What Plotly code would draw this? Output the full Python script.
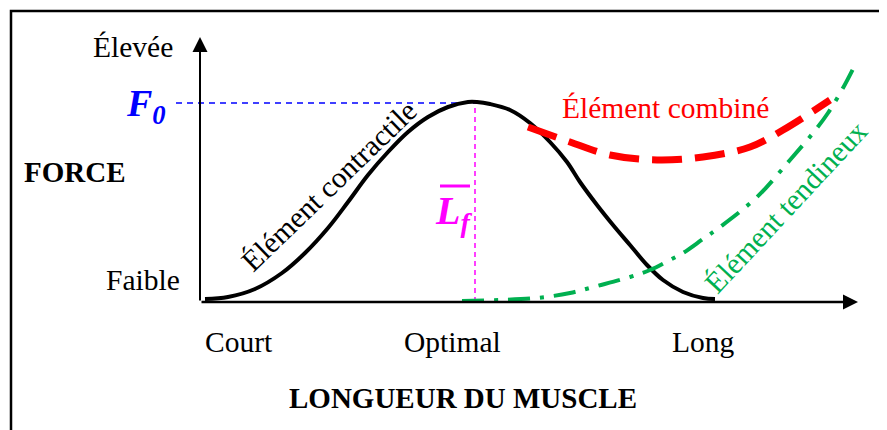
import plotly.graph_objects as go

# curves (x = longueur, y = force, arbitrary units)
contractile_x = [5, 28, 55, 82, 105, 128, 148, 168, 188, 208, 228, 248, 268, 277,
                 290, 310, 330, 350, 367, 380, 397, 413, 430, 447, 463, 483, 503, 515]
contractile_y = [3, 5, 13, 29, 49, 74, 100, 127, 150, 170, 185, 195, 200, 200,
                 198, 192, 179, 160, 140, 120, 97, 77, 57, 37, 22, 10, 4, 3]

combine_x = [328, 370, 410, 457, 503, 550, 583, 630]
combine_y = [175, 160, 147, 142, 145, 155, 172, 202]

tendon_x = [262, 300, 337, 370, 397, 430, 450, 470, 483, 503, 520, 557, 590, 613, 628, 643, 655]
tendon_y = [1, 2, 4, 9, 16, 25, 32, 42, 49, 63, 75, 105, 142, 169, 189, 214, 237]

f0 = 199
lf = 275

tick_x = [39, 252, 503]
tick_labels = ["Court", "Optimal", "Long"]

serif = "Liberation Serif"
size = 29.5

fig = go.Figure()

# guides
fig.add_trace(go.Scatter(x=[-24, lf], y=[f0, f0], mode='lines',
                         line=dict(color='#0000FF', width=1.5, dash='6px,5px'),
                         hoverinfo='skip'))
fig.add_trace(go.Scatter(x=[lf, lf], y=[0, f0 + 1], mode='lines',
                         line=dict(color='#FF00FF', width=1.5, dash='5px,4px'),
                         hoverinfo='skip'))

fig.add_trace(go.Scatter(x=contractile_x, y=contractile_y, mode='lines',
                         line=dict(color='black', width=4, shape='spline'),
                         name='Élément contractile'))
fig.add_trace(go.Scatter(x=combine_x, y=combine_y, mode='lines',
                         line=dict(color='#FF0000', width=7, shape='spline', dash='30px,13px'),
                         name='Élément combiné'))
fig.add_trace(go.Scatter(x=tendon_x, y=tendon_y, mode='lines',
                         line=dict(color='#00B050', width=4, shape='spline', dash='22px,10px,4px,10px'),
                         name='Élément tendineux'))

# axes with arrows
fig.add_annotation(x=0, y=265, ax=0, ay=0, xref='x', yref='y', axref='x', ayref='y',
                   showarrow=True, arrowhead=2, arrowwidth=2, arrowsize=1.5,
                   arrowcolor='black', text='')
fig.add_annotation(x=658, y=0, ax=0, ay=0, xref='x', yref='y', axref='x', ayref='y',
                   showarrow=True, arrowhead=2, arrowwidth=2.5, arrowsize=1.2,
                   arrowcolor='black', text='')

for tx, tl in zip(tick_x, tick_labels):
    fig.add_annotation(x=tx, y=-40, text=tl, showarrow=False,
                       font=dict(family=serif, size=size, color='black'))

fig.add_annotation(x=-67, y=255, text='Élevée', showarrow=False,
                   font=dict(family=serif, size=size, color='black'))
fig.add_annotation(x=-57, y=22, text='Faible', showarrow=False,
                   font=dict(family=serif, size=size, color='black'))
fig.add_annotation(x=-125, y=130, text='<b>FORCE</b>', showarrow=False,
                   font=dict(family=serif, size=29, color='black'))
fig.add_annotation(x=263, y=-96, text='<b>LONGUEUR DU MUSCLE</b>', showarrow=False,
                   font=dict(family=serif, size=29, color='black'))

fig.add_annotation(x=-54, y=196, text='<b><i>F<sub>0</sub></i></b>', showarrow=False,
                   font=dict(family=serif, size=38, color='#0000FF'))
fig.add_annotation(x=253, y=89, text='<b><i>L<sub>f</sub></i></b>', showarrow=False,
                   font=dict(family=serif, size=40, color='#FF00FF'))
fig.add_shape(type='line', x0=240, x1=270, y0=116, y1=116,
              line=dict(color='#FF00FF', width=3))

fig.add_annotation(x=129, y=116, text='Élément contractile', showarrow=False, textangle=-44,
                   font=dict(family=serif, size=size, color='black'))
fig.add_annotation(x=465, y=194, text='Élément combiné', showarrow=False,
                   font=dict(family=serif, size=size, color='#FF0000'))
fig.add_annotation(x=586, y=95, text='Élément tendineux', showarrow=False, textangle=-47,
                   font=dict(family=serif, size=size, color='#00B050'))

# frame (page body has an 8px margin, hence the offsets)
fig.add_shape(type='rect', xref='paper', yref='paper',
              x0=3 / 887, x1=1.1, y0=-0.1, y1=1 - 3 / 430,
              line=dict(color='black', width=2.5))

fig.update_layout(
    width=887,
    height=430,
    autosize=False,
    margin=dict(l=0, r=0, t=0, b=0),
    plot_bgcolor='white',
    paper_bgcolor='white',
    showlegend=False,
    xaxis=dict(range=[-192, 695], visible=False, fixedrange=True),
    yaxis=dict(range=[-136, 294], visible=False, fixedrange=True),
)

fig.write_html("out.html")
